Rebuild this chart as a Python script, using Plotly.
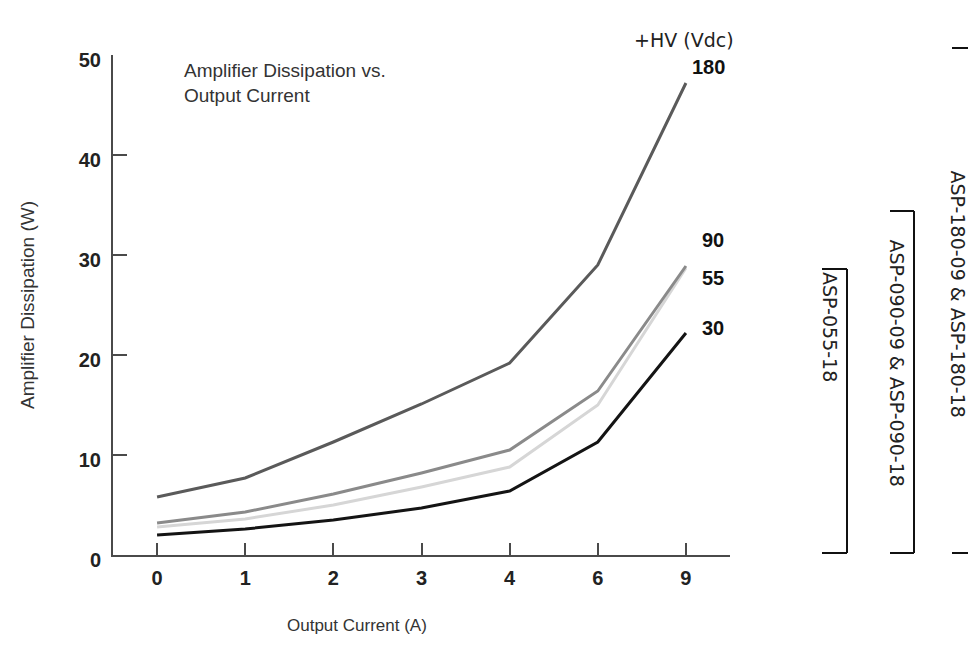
import plotly.graph_objects as go

# ---- data ----
x_labels = ["0", "1", "2", "3", "4", "6", "9"]
hv_180 = [5.8, 7.7, 11.3, 15.1, 19.2, 29.0, 47.2]
hv_90 = [3.2, 4.3, 6.1, 8.2, 10.5, 16.4, 28.9]
hv_55 = [2.8, 3.6, 5.0, 6.8, 8.8, 15.0, 28.7]
hv_30 = [2.0, 2.6, 3.5, 4.7, 6.4, 11.3, 22.2]
series_names = ["180", "90", "55", "30"]
y_ticks = [0, 10, 20, 30, 40, 50]

# figure is placed inside the page body (8px default margin); size it so nothing scrolls
OFF = 8
W, H = 976 - 2 * OFF, 645 - 2 * OFF
# plot area in window pixels: x 113..730, y 55..555
L, T = 113 - OFF, 55 - OFF
R, B = W - (730 - OFF), H - (555 - OFF)
PW, PH = W - L - R, H - T - B


def px(xw):
    return (xw - OFF - L) / PW


def py(yw):
    return (H - B - (yw - OFF)) / PH


fig = go.Figure()
styles = {
    "55": ("#d6d6d6", hv_55),
    "90": ("#8a8a8a", hv_90),
    "30": ("#141414", hv_30),
    "180": ("#5a5a5a", hv_180),
}
for name in ["55", "90", "30", "180"]:
    color, vals = styles[name]
    fig.add_trace(go.Scatter(x=x_labels, y=vals, mode="lines", name=name,
                             line=dict(color=color, width=3), showlegend=False))

axis_col = "#4a4a4a"
tick_font = dict(family="Liberation Sans, Arial", size=20, color="#222", weight="bold")
fig.update_xaxes(type="category", range=[-0.5, 6.5], showline=True, linecolor=axis_col, linewidth=2,
                 ticks="inside", ticklen=12, tickwidth=2, tickcolor=axis_col,
                 tickfont=tick_font, showgrid=False, zeroline=False, ticklabelstandoff=4)
fig.update_yaxes(range=[0, 50], tickvals=y_ticks, showline=True, linecolor=axis_col, linewidth=2,
                 ticks="inside", ticklen=14, tickwidth=2, tickcolor=axis_col,
                 tickfont=tick_font, showgrid=False, zeroline=False, ticklabelstandoff=6,
                 ticklabelshift=5)

ann = []
ann.append(dict(x=px(182), y=py(58), xref="paper", yref="paper", xanchor="left", yanchor="top",
                align="left", text="Amplifier Dissipation vs.<br>Output Current", showarrow=False,
                font=dict(family="Liberation Sans Narrow, Liberation Sans, Arial", size=19, color="#333")))
ann.append(dict(x=px(27), y=py(305), xref="paper", yref="paper", xanchor="center", yanchor="middle",
                textangle=-90, showarrow=False, text="Amplifier Dissipation (W)",
                font=dict(family="Liberation Sans, Arial", size=19, color="#333")))
ann.append(dict(x=px(357), y=py(625), xref="paper", yref="paper", xanchor="center", yanchor="middle",
                showarrow=False, text="Output Current (A)",
                font=dict(family="Liberation Sans, Arial", size=17, color="#333")))
lab_font = dict(family="Liberation Sans, Arial", size=20, color="#111", weight="bold")
for name, (xx, yy) in zip(series_names, [(690, 67), (700, 240), (700, 278), (700, 328)]):
    ann.append(dict(x=px(xx), y=py(yy), xref="paper", yref="paper", xanchor="left", yanchor="middle",
                    text=name, showarrow=False, font=lab_font))
ann.append(dict(x=px(684), y=py(40), xref="paper", yref="paper", xanchor="center", yanchor="middle",
                showarrow=False, text="+HV (Vdc)", font=dict(family="DejaVu Sans", size=19, color="#222")))
rot_font = dict(family="DejaVu Sans", size=19, color="#222")
for text, xx, yy in [("ASP-180-09 &amp; ASP-180-18", 958, 168),
                     ("ASP-090-09 &amp; ASP-090-18", 897, 237),
                     ("ASP-055-18", 830, 270)]:
    ann.append(dict(x=px(xx), y=py(yy), xref="paper", yref="paper", xanchor="center", yanchor="top",
                    textangle=90, text=text, showarrow=False, font=rot_font))
fig.update_layout(annotations=ann)

shapes = []
blk = dict(color="#111", width=2)
# brackets (window pixels)
for x0, x1, ytop, vert in [(952, 968, 48, False), (890, 914, 211, True), (822, 847, 269, True)]:
    shapes.append(dict(type="line", xref="paper", yref="paper", x0=px(x0), x1=px(x1), y0=py(ytop), y1=py(ytop), line=blk))
    shapes.append(dict(type="line", xref="paper", yref="paper", x0=px(x0), x1=px(x1), y0=py(553), y1=py(553), line=blk))
    if vert:
        shapes.append(dict(type="line", xref="paper", yref="paper", x0=px(x1), x1=px(x1), y0=py(ytop), y1=py(553), line=blk))
fig.update_layout(shapes=shapes)

fig.update_layout(width=W, height=H, margin=dict(l=L, r=R, t=T, b=B),
                  paper_bgcolor="white", plot_bgcolor="white")
fig.write_html("out.html")
